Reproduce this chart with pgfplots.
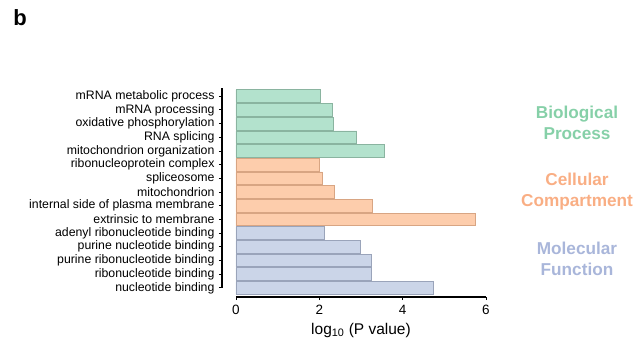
\documentclass[border=0pt]{standalone}
\usepackage{pgfplots}
\pgfplotsset{compat=1.18}
\usepackage{fontspec}
\setmainfont{Liberation Sans}
\definecolor{gfill}{HTML}{B3E2CD}
\definecolor{gdraw}{HTML}{8AB4A0}
\definecolor{ofill}{HTML}{FDCDAC}
\definecolor{odraw}{HTML}{D8A583}
\definecolor{bfill}{HTML}{CBD5E8}
\definecolor{bdraw}{HTML}{9AA4BA}
\definecolor{gtext}{HTML}{86D0A8}
\definecolor{otext}{HTML}{F9AE84}
\definecolor{btext}{HTML}{A9B6DA}
\begin{document}
\begin{tikzpicture}[x=1pt,y=1pt]
\useasboundingbox (0,0) rectangle (641,346);
\begin{axis}[
  at={(222pt,49pt)}, anchor=south west,
  scale only axis, width=264pt, height=209pt,
  xmin=-0.336, xmax=6, ymin=-0.67, ymax=14.6,
  clip=false,
  axis x line*=bottom, axis y line*=left,
  axis line style={draw=none},
  xtick={0,2,4,6}, ytick={0,...,14},
  yticklabels={nucleotide binding, ribonucleotide binding, purine ribonucleotide binding, purine nucleotide binding, adenyl ribonucleotide binding, extrinsic to membrane, internal side of plasma membrane, mitochondrion, spliceosome, ribonucleoprotein complex, mitochondrion organization, RNA splicing, oxidative phosphorylation, mRNA processing, mRNA metabolic process},
  tick align=outside, major tick length=3pt,
  tick style={black, line width=0.9pt},
  /pgf/number format/assume math mode=true,
  yticklabel style={font=\fontsize{12.3}{13}\selectfont, xshift=-1pt},
  xticklabel style={font=\fontsize{13.5}{14}\selectfont, yshift=-2pt},
  xlabel={log\textsubscript{10} (P value)},
  xlabel style={at={(axis cs:3,-0.67)}, anchor=center, yshift=-33pt, font=\fontsize{15.5}{16}\selectfont},
]
\addplot[xbar, bar width=0.93, bar shift=0pt, fill=gfill, draw=gdraw, line width=0.8pt]
  coordinates {(2.03,14) (2.32,13) (2.34,12) (2.90,11) (3.55,10)};
\addplot[xbar, bar width=0.93, bar shift=0pt, fill=ofill, draw=odraw, line width=0.8pt]
  coordinates {(2.00,9) (2.07,8) (2.37,7) (3.27,6) (5.74,5)};
\addplot[xbar, bar width=0.93, bar shift=0pt, fill=bfill, draw=bdraw, line width=0.8pt]
  coordinates {(2.12,4) (2.98,3) (3.26,2) (3.26,1) (4.74,0)};
\draw[line width=1.4pt] (axis cs:-0.336,14.6) -- (axis cs:-0.336,0);
\draw[line width=1.4pt] (axis cs:0,-0.67) -- (axis cs:6,-0.67);
\end{axis}
\node[font=\fontsize{22}{24}\selectfont\bfseries] at (20,328) {b};
\node[font=\fontsize{17.2}{21}\selectfont\bfseries, text=gtext, align=center] at (577,223) {Biological\\Process};
\node[font=\fontsize{17.2}{21}\selectfont\bfseries, text=otext, align=center] at (577,154) {Cellular\\Compartment};
\node[font=\fontsize{17.2}{21}\selectfont\bfseries, text=btext, align=center] at (577,87) {Molecular\\Function};
\end{tikzpicture}
\end{document}
